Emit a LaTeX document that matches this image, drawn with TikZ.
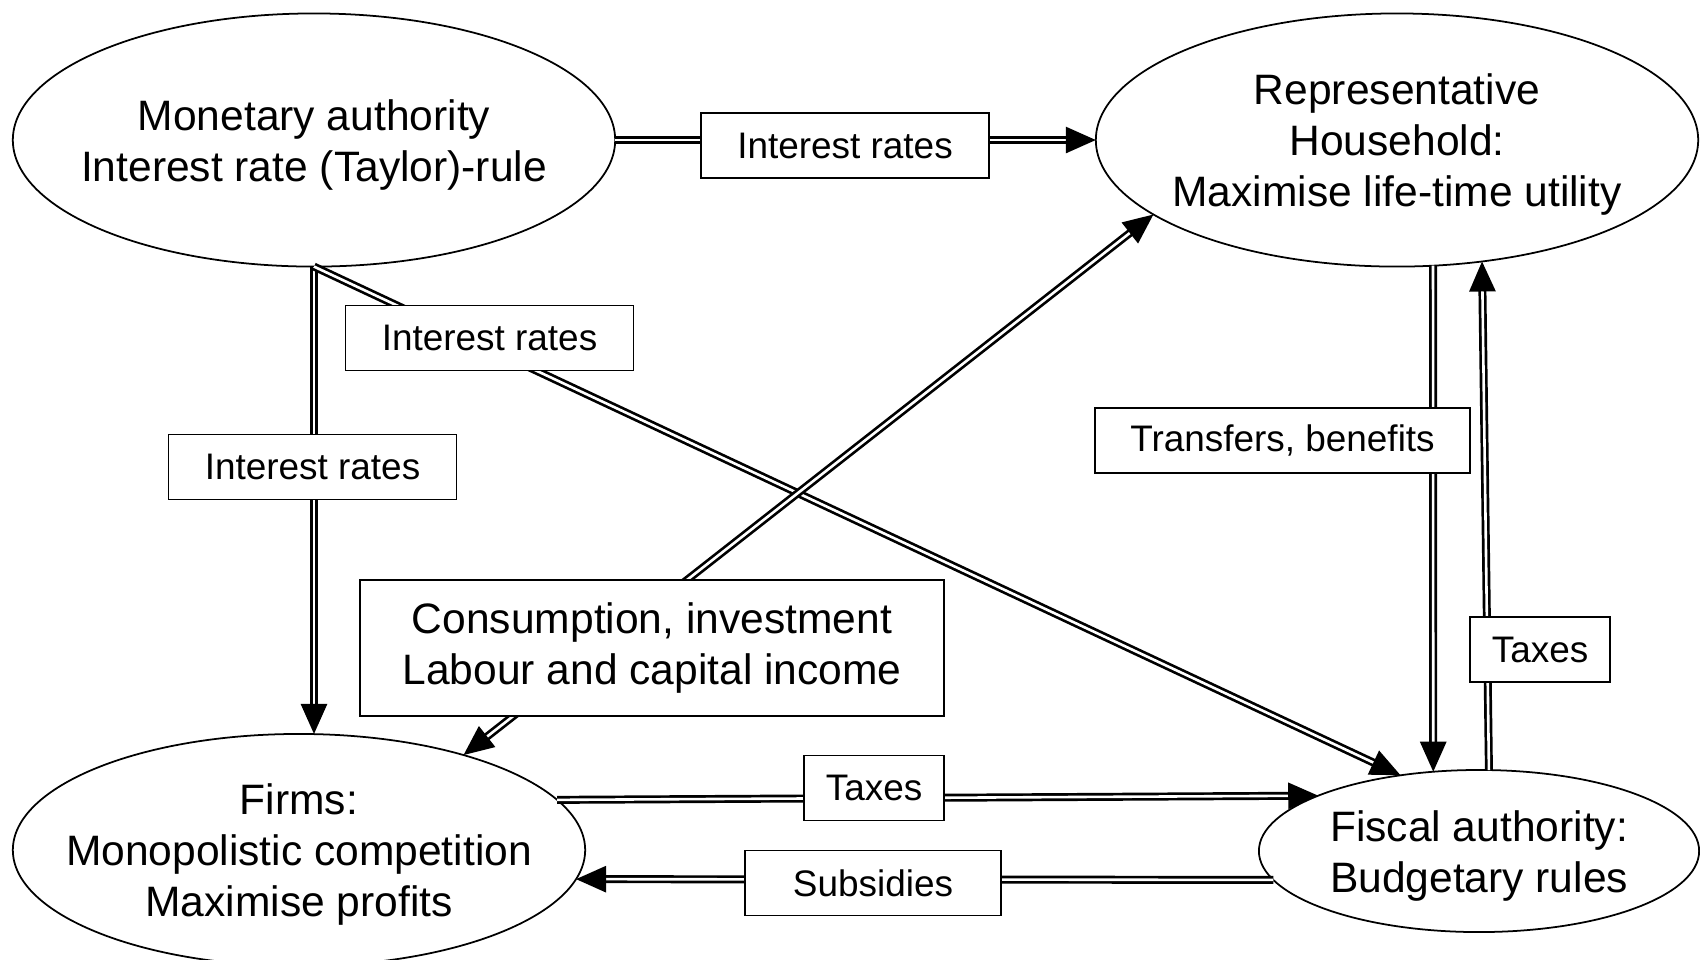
\documentclass[tikz,border=0pt]{standalone}
\usepackage{fontspec}
\setmainfont{Liberation Sans}
\usetikzlibrary{arrows.meta,shapes.geometric}
\begin{document}
\begin{tikzpicture}[x=0.01cm,y=-0.01cm,
  ell/.style={draw, ellipse, line width=0.5pt, inner sep=0pt, outer sep=0pt},
  big/.style={font=\fontsize{12.1pt}{14.5pt}\selectfont, align=center},
  txt/.style={big, yshift=-0.045cm},
  lab/.style={draw, fill=white, line width=0.5pt, inner sep=0pt, minimum height=0.65cm,
              font=\fontsize{10.5pt}{12.6pt}\selectfont, align=center},
  tip/.tip={Triangle[length=0.3cm,width=0.26cm]},
  flow/.style={double, line width=0.027cm, double distance=0.026cm, -tip},
  flows/.style={double, line width=0.027cm, double distance=0.026cm, tip-tip}
]
\useasboundingbox (0,0) rectangle (1700,959);
\clip (0,0) rectangle (1700,959);

% main actors
\node[ell, minimum width=6.02cm, minimum height=2.53cm,
      label={[txt]center:{Monetary authority\\Interest rate (Taylor)-rule}}] (mon) at (314,140) {};
\node[ell, minimum width=6.02cm, minimum height=2.53cm,
      label={[txt]center:{Representative\\Household:\\Maximise life-time utility}}] (hh) at (1397,140) {};
\node[ell, minimum width=5.72cm, minimum height=2.32cm,
      label={[txt]center:{Firms:\\Monopolistic competition\\Maximise profits}}] (firms) at (299,850) {};
\node[ell, minimum width=4.40cm, minimum height=1.62cm,
      label={[txt]center:{Fiscal authority:\\Budgetary rules}}] (fisc) at (1479,851) {};

% flows
\draw[flow] (mon.east) -- (hh.west);
\draw[flow] (mon.south) -- (mon.south |- firms.north);
\draw[flow] (mon.south) -- (fisc.136);
\draw[flows] (firms.30.6) -- (hh.197.6);
\draw[flow] (hh.-74) -- (fisc.120.15);
\draw[flow] (fisc.83.65) -- (hh.-55.34);
\draw[flow] (firms.11.79) -- (fisc.161.77);
\draw[flow] (fisc.188.04) -- (firms.-6.2);

% labels on the flows
\node[lab, minimum width=2.88cm] (b1) at (845,145.5) {Interest rates};
\node[lab, minimum width=2.88cm] (b2) at (489.5,338) {Interest rates};
\node[lab, minimum width=2.88cm] (b3) at (312.5,467) {Interest rates};
\node[lab, big, minimum width=5.84cm, minimum height=1.36cm] (b4) at (652,648)
     {Consumption, investment\\Labour and capital income};
\node[lab, minimum width=3.75cm] (b5) at (1282.5,440.5) {Transfers, benefits};
\node[lab, minimum width=1.40cm] (b6) at (1540,649.5) {Taxes};
\node[lab, minimum width=1.40cm] (b7) at (874,788) {Taxes};
\node[lab, minimum width=2.56cm] (b8) at (873,883) {Subsidies};
\end{tikzpicture}
\end{document}
